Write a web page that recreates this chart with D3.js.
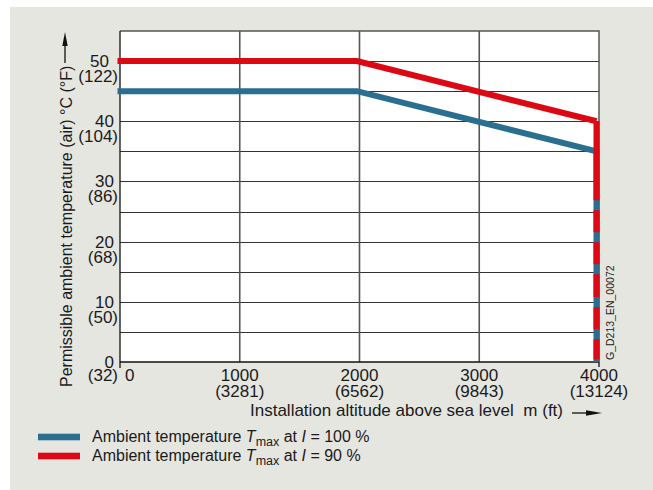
<!DOCTYPE html>
<html><head><meta charset="utf-8">
<script src="https://cdn.jsdelivr.net/npm/d3@7"></script>
<style>
html,body{margin:0;padding:0;background:#fff;}
svg{display:block;font-family:"Liberation Sans",Arial,sans-serif;}
</style></head>
<body>
<svg id="c" width="653" height="490"></svg>
<script>
// ---- data ----
const altitudes = [0, 2000, 4000];                 // m
const tempI100 = [45, 45, 35];                     // °C, I = 100 %
const tempI90  = [50, 50, 40];                     // °C, I = 90 %
const xTicks = [0, 1000, 2000, 3000, 4000];
const xTickFt = ["", "(3281)", "(6562)", "(9843)", "(13124)"];
const yTicks = [0, 10, 20, 30, 40, 50];
const yTickF = ["(32)", "(50)", "(68)", "(86)", "(104)", "(122)"];
const yGrid = [5, 10, 15, 20, 25, 30, 35, 40, 45, 50];
const xGrid = [1000, 2000, 3000];
const legendLabels = ["100 %", "90 %"];

const RED = "#dc0915", BLUE = "#2a6f90";
const svg = d3.select("#c");
svg.append("rect").attr("x",10).attr("y",7).attr("width",643).attr("height",483).attr("fill","#e6e6e1");

const x = d3.scaleLinear().domain([0,4000]).range([120,599]);
const y = d3.scaleLinear().domain([0,55]).range([362,31]);

svg.append("rect").attr("x",x(0)).attr("y",y(55)).attr("width",x(4000)-x(0)).attr("height",y(0)-y(55)).attr("fill","#fff");

// grid
svg.append("g").selectAll("line").data(yGrid).join("line")
  .attr("x1",x(0)).attr("x2",x(4000)).attr("y1",d=>Math.round(y(d))+0.5).attr("y2",d=>Math.round(y(d))+0.5)
  .attr("stroke","#333").attr("stroke-width",1.2);
svg.append("g").selectAll("line").data(xGrid).join("line")
  .attr("x1",d=>x(d)).attr("x2",d=>x(d)).attr("y1",y(55)).attr("y2",y(0))
  .attr("stroke","#555").attr("stroke-width",1.6);
// borders
svg.append("path").attr("d",`M${x(0)},${y(55)}H${x(4000)}V${y(0)}`).attr("fill","none").attr("stroke","#555").attr("stroke-width",1.5);
svg.append("line").attr("x1",x(0)).attr("x2",x(0)).attr("y1",y(55)).attr("y2",y(0)+6).attr("stroke","#111").attr("stroke-width",1.3);
svg.append("line").attr("x1",x(0)).attr("x2",x(4000)).attr("y1",y(0)).attr("y2",y(0)).attr("stroke","#111").attr("stroke-width",1.3);
svg.append("line").attr("x1",x(4000)).attr("x2",x(4000)).attr("y1",y(0)).attr("y2",y(0)+5).attr("stroke","#111").attr("stroke-width",1.3);

// series
const g = svg.append("g").attr("transform","translate(-2.5,0)");
const line = d3.line().x(d=>x(d[0])).y(d=>y(d[1]));
const ptsB = altitudes.map((a,i)=>[a,tempI100[i]]);
const ptsR = altitudes.map((a,i)=>[a,tempI90[i]]);
g.append("path").attr("d", line(ptsB.concat([[4000,0]]))).attr("fill","none").attr("stroke",BLUE).attr("stroke-width",6).attr("stroke-linejoin","miter");
g.append("path").attr("d", line(ptsR)).attr("fill","none").attr("stroke",RED).attr("stroke-width",6).attr("stroke-linejoin","miter");
g.append("path").attr("d", line([[4000,tempI90[2]],[4000,0]])).attr("fill","none").attr("stroke",RED).attr("stroke-width",6)
  .attr("stroke-dasharray","79 10 22 10 22 10 23 10 22 10 20 10");

// y tick labels
const fs = 17;
const yl = svg.append("g").attr("font-size",fs).attr("fill","#1a1a1a").attr("text-anchor","end");
yTicks.forEach((t,i)=>{
  yl.append("text").attr("x", t===50?109:114).attr("y", y(t)+6).text(t);
  yl.append("text").attr("x",118).attr("y", y(t)+(t===0?19:21)).text(yTickF[i]);
});
// x tick labels
const xl = svg.append("g").attr("font-size",fs).attr("fill","#1a1a1a").attr("text-anchor","middle");
xTicks.forEach((t,i)=>{
  if(t===0){ xl.append("text").attr("x",125).attr("y",381).attr("text-anchor","start").text("0"); return; }
  xl.append("text").attr("x",x(t)).attr("y",381).text(t);
  xl.append("text").attr("x",x(t)).attr("y",397).text(xTickFt[i]);
});

// axis titles
svg.append("text").attr("x",250).attr("y",416).attr("font-size",fs).attr("fill","#1a1a1a").text("Installation altitude above sea level");
svg.append("text").attr("x",563).attr("y",416).attr("text-anchor","end").attr("font-size",fs).attr("fill","#1a1a1a").text("m (ft)");
svg.append("line").attr("x1",572).attr("x2",590).attr("y1",413).attr("y2",413).attr("stroke","#111").attr("stroke-width",1.3);
svg.append("path").attr("d","M602,413L586,410.3L586,415.7Z").attr("fill","#111");

svg.append("text").attr("transform","translate(72,387) rotate(-90)").attr("font-size",16).attr("fill","#1a1a1a")
  .text("Permissible ambient temperature (air) °C (°F)");
svg.append("line").attr("x1",65).attr("x2",65).attr("y1",63).attr("y2",42).attr("stroke","#111").attr("stroke-width",1.3);
svg.append("path").attr("d","M65,32L62.3,46L67.7,46Z").attr("fill","#111");

// code
svg.append("text").attr("transform","translate(614,360) rotate(-90)").attr("font-size",10.5).attr("fill","#222").text("G_D213_EN_00072");

// legend
const lg = svg.append("g");
[[BLUE,437,442],[RED,456,461]].forEach((c,i)=>{
  lg.append("rect").attr("x",38).attr("y",c[1]-3.3).attr("width",42).attr("height",6.6).attr("fill",c[0]);
  const t = lg.append("text").attr("x",92).attr("y",c[2]).attr("font-size",16).attr("fill","#1a1a1a");
  t.append("tspan").text("Ambient temperature ");
  t.append("tspan").attr("font-style","italic").text("T");
  t.append("tspan").attr("font-size",12.5).attr("dy",4).text("max");
  t.append("tspan").attr("dy",-4).text(" at ");
  t.append("tspan").attr("font-style","italic").text("I");
  t.append("tspan").text(" = " + legendLabels[i]);
});
</script>
</body></html>
